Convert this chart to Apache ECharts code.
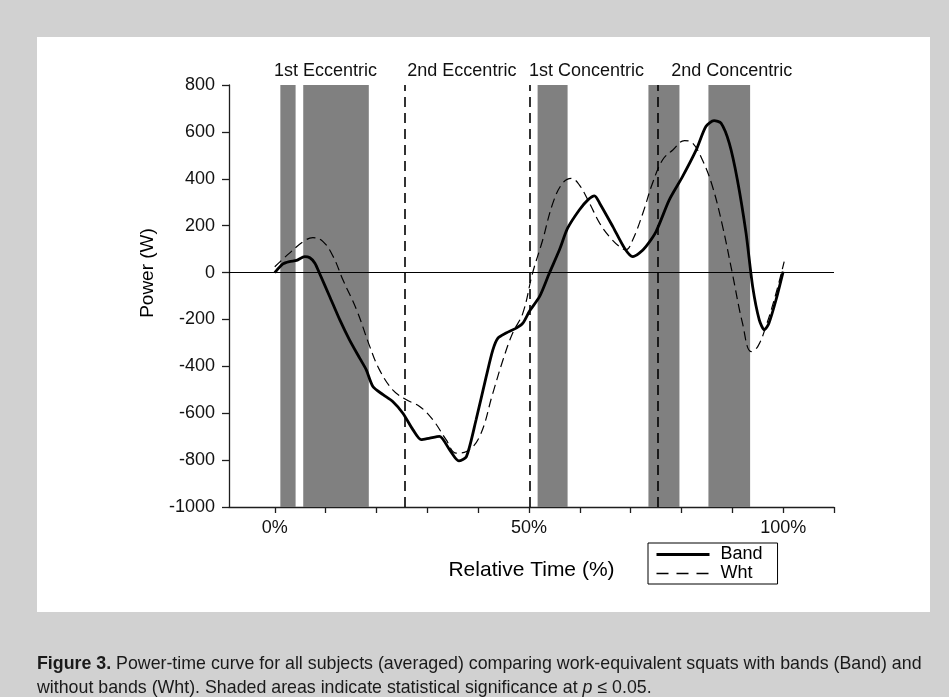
<!DOCTYPE html>
<html>
<head>
<meta charset="utf-8">
<script src="https://cdn.jsdelivr.net/npm/echarts@6/dist/echarts.min.js"></script>
<style>
  html, body { margin: 0; padding: 0; background: #d1d1d1; }
  #chart { width: 949px; height: 697px; }
</style>
</head>
<body>
<div id="chart"></div>
<script>
// Averaged power-time curves (relative time in %, power in W)
const bandTime = [0.0, 1.6, 2.9, 4.3, 5.9, 6.9, 7.9, 8.8, 10.8, 12.8, 14.7, 16.7, 18.0, 19.3, 21.3, 23.2, 25.2, 27.2, 28.8, 30.5, 32.4, 34.4, 36.2, 37.7, 39.6, 41.6, 42.9, 43.9, 45.5, 47.5, 48.8, 50.1, 52.1, 54.0, 56.0, 57.6, 59.9, 61.6, 62.9, 63.9, 66.5, 68.8, 70.4, 71.7, 73.0, 75.0, 77.6, 80.2, 82.9, 84.8, 86.4, 87.8, 89.4, 91.0, 92.7, 94.0, 95.3, 96.3, 97.2, 98.6, 100.0];
const bandPower = [0, 37, 47, 52, 68, 63, 40, -3, -102, -202, -287, -365, -415, -486, -521, -550, -600, -671, -713, -706, -699, -756, -803, -785, -628, -443, -330, -280, -258, -237, -216, -165, -102, -3, 97, 189, 267, 310, 327, 296, 196, 104, 68, 83, 111, 175, 310, 409, 523, 623, 648, 637, 552, 395, 168, -60, -202, -244, -216, -116, 4];

const whtTime = [0.0, 2.9, 5.6, 7.5, 9.5, 11.5, 13.4, 16.1, 18.7, 20.6, 23.2, 25.9, 28.5, 31.1, 33.7, 35.7, 37.7, 40.3, 42.9, 44.9, 46.8, 48.8, 50.7, 52.7, 54.7, 56.6, 58.3, 59.9, 61.9, 63.9, 65.8, 67.8, 69.1, 70.4, 72.4, 74.3, 76.3, 78.3, 80.6, 82.2, 84.1, 86.1, 88.1, 90.0, 92.0, 93.7, 95.0, 96.6, 98.6, 100.2];
const whtPower = [25, 83, 132, 149, 132, 68, -31, -159, -316, -415, -500, -543, -571, -628, -713, -770, -763, -699, -514, -372, -258, -173, -3, 139, 296, 381, 402, 374, 296, 211, 154, 111, 97, 139, 253, 381, 481, 523, 563, 552, 481, 367, 196, -3, -216, -337, -316, -230, -88, 47];

// Shaded spans of statistical significance (relative time, %)
const sigSpans = [[1.1, 4.1], [5.6, 18.5], [51.7, 57.6], [73.5, 79.6], [85.3, 93.5]];
// Phase boundaries and phase names
const phaseBounds = [25.5, 50.1, 75.4];
const phaseNames = ['1st Eccentric', '2nd Eccentric', '1st Concentric', '2nd Concentric'];
const phaseLabelAt = [10.0, 36.8, 61.3, 89.9];

// Axis ticks
const xTickValues = [0, 10, 20, 30, 40, 50, 60, 70, 80, 90, 100, 110];
const xLabelValues = [0, 50, 100];

const captionLine1 = 'Power-time curve for all subjects (averaged) comparing work-equivalent squats with bands (Band) and';
const captionLine2a = 'without bands (Wht). Shaded areas indicate statistical significance at ';
const captionLine2b = '≤ 0.05.';

const FONT = '"Liberation Sans", Arial, Helvetica, sans-serif';
const AXIS_COLOR = '#1e1e1e';

const zip = (xs, ys) => xs.map((x, i) => [x, ys[i]]);

const chart = echarts.init(document.getElementById('chart'), null, { renderer: 'canvas' });

const option = {
  backgroundColor: '#d1d1d1',
  animation: false,
  textStyle: { fontFamily: FONT },
  grid: { left: 229, right: 115, top: 85, bottom: 190, containLabel: false },
  legend: {
    data: [
      { name: 'Band', lineStyle: { width: 3, type: 'solid' } },
      { name: 'Wht', lineStyle: { width: 1.3, type: [12, 8] } }
    ],
    orient: 'vertical',
    left: 648,
    top: 543,
    backgroundColor: '#fff',
    borderColor: '#000',
    borderWidth: 1,
    borderRadius: 0,
    padding: [2, 15, 1, 7],
    itemWidth: 53,
    itemHeight: 14,
    itemGap: 0,
    itemStyle: { opacity: 0 },
    textStyle: { fontFamily: FONT, fontSize: 18, color: '#000', lineHeight: 19, padding: [0, 0, 0, 6] }
  },
  xAxis: {
    type: 'value',
    min: -9,
    max: 110,
    name: 'Relative Time (%)',
    nameLocation: 'middle',
    nameGap: 53,
    nameTextStyle: { fontFamily: FONT, fontSize: 21, color: '#000' },
    splitLine: { show: false },
    axisLine: { show: true, onZero: false, lineStyle: { color: AXIS_COLOR, width: 1.3 } },
    axisTick: { show: true, length: 6, lineStyle: { color: AXIS_COLOR, width: 1.3 }, customValues: xTickValues },
    axisLabel: {
      fontFamily: FONT, fontSize: 18, color: '#111', margin: 12,
      customValues: xLabelValues,
      formatter: v => v + '%'
    }
  },
  yAxis: {
    type: 'value',
    min: -1000,
    max: 800,
    interval: 200,
    name: 'Power (W)',
    nameLocation: 'middle',
    nameGap: 72,
    nameTextStyle: { fontFamily: FONT, fontSize: 19, color: '#000', padding: [0, 0, 0, 46] },
    splitLine: { show: false },
    axisLine: { show: true, onZero: false, lineStyle: { color: AXIS_COLOR, width: 1.3 } },
    axisTick: { show: true, length: 7, lineStyle: { color: AXIS_COLOR, width: 1.3 } },
    axisLabel: { fontFamily: FONT, fontSize: 18, color: '#111', margin: 14, formatter: v => String(v) }
  },
  series: [
    {
      name: 'Band',
      type: 'line',
      data: zip(bandTime, bandPower),
      showSymbol: false,
      symbol: 'none',
      smooth: 0.25,
      z: 4,
      lineStyle: { color: '#000', width: 2.8 },
      itemStyle: { color: '#000' },
      markArea: {
        silent: true,
        itemStyle: { color: '#808080', opacity: 1 },
        data: sigSpans.map(s => [{ xAxis: s[0] }, { xAxis: s[1] }])
      },
      markLine: {
        silent: true,
        symbol: 'none',
        label: { show: false },
        data: [
          { yAxis: 0, lineStyle: { type: 'solid', color: '#000', width: 1.2 } }
        ].concat(phaseBounds.map(b => ({ xAxis: b, lineStyle: { type: [10, 6], color: '#000', width: 1.6 } })))
      }
    },
    {
      name: 'Wht',
      type: 'line',
      data: zip(whtTime, whtPower),
      showSymbol: false,
      symbol: 'none',
      smooth: 0.4,
      z: 3,
      lineStyle: { color: '#000', width: 1.2, type: [9, 5] },
      itemStyle: { color: '#000' }
    }
  ]
};

chart.setOption(option);

// Panel, phase names and caption
const graphics = [
  {
    type: 'rect', z: -10, silent: true,
    shape: { x: 37, y: 37, width: 893, height: 575 },
    style: { fill: '#ffffff' }
  }
];
phaseNames.forEach((name, i) => {
  const p = chart.convertToPixel({ gridIndex: 0 }, [phaseLabelAt[i], 800]);
  graphics.push({
    type: 'text', z: 10, silent: true,
    x: p[0], y: p[1] - 14,
    style: { text: name, fontFamily: FONT, fontSize: 18, fill: '#111', align: 'center', verticalAlign: 'middle' }
  });
});
graphics.push({
  type: 'text', z: 10, silent: true, x: 37, y: 664,
  style: {
    text: '{b|Figure 3.} ' + captionLine1,
    fontFamily: FONT, fontSize: 17.8, fill: '#1a1a1a', verticalAlign: 'middle',
    rich: { b: { fontFamily: FONT, fontSize: 17.8, fontWeight: 'bold', fill: '#1a1a1a' } }
  }
});
graphics.push({
  type: 'text', z: 10, silent: true, x: 37, y: 688,
  style: {
    text: captionLine2a + '{i|p} ' + captionLine2b,
    fontFamily: FONT, fontSize: 17.8, fill: '#1a1a1a', verticalAlign: 'middle',
    rich: { i: { fontFamily: FONT, fontSize: 17.8, fontStyle: 'italic', fill: '#1a1a1a' } }
  }
});
chart.setOption({ graphic: graphics });
</script>
</body>
</html>
